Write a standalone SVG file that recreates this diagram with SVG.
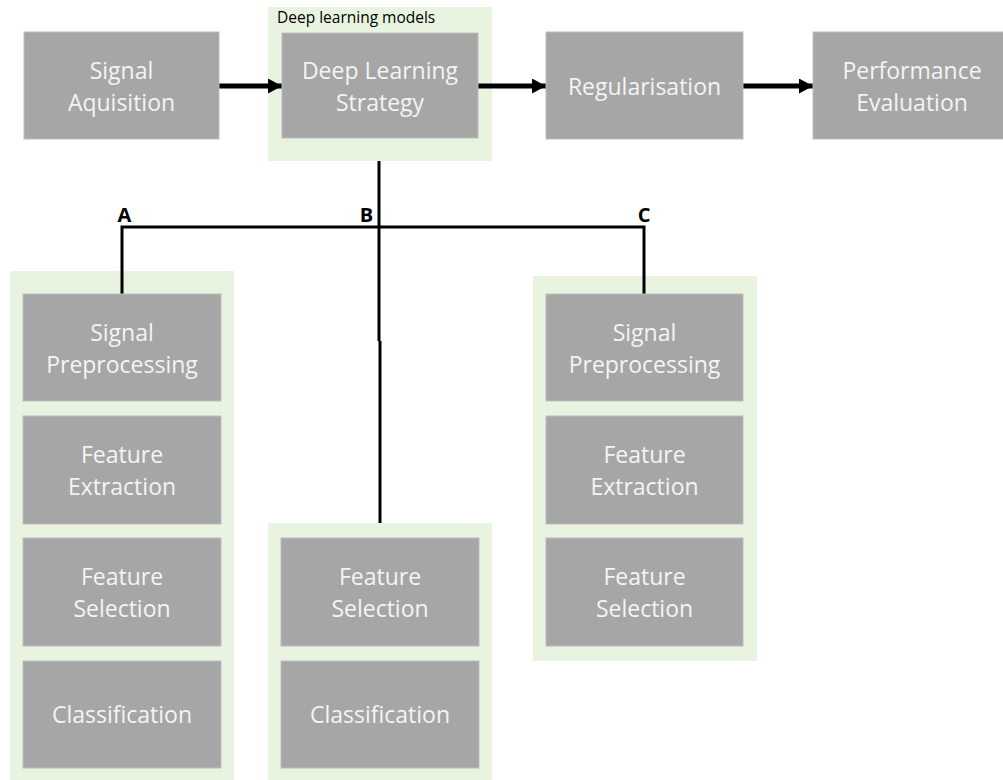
<svg xmlns="http://www.w3.org/2000/svg" width="1003" height="780" viewBox="0 0 1003 780">
<style>
.bg{fill:#ffffff}
.grp{fill:#E9F4E0}
.box{fill:#A6A6A6;stroke:#BDBDBD;stroke-width:1}
.t{font-family:"Open Sans","Liberation Sans",sans-serif;font-size:23px;fill:#F4F4F4;text-anchor:middle}
.lbl{font-family:"Open Sans","Liberation Sans",sans-serif;font-size:15.5px;fill:#000}
.ltr{font-family:"Open Sans","Liberation Sans",sans-serif;font-size:20px;font-weight:bold;fill:#000;text-anchor:middle}
.ln{stroke:#000;stroke-width:3;fill:none}
.ar{stroke:#000;stroke-width:5;fill:none}
</style>
<defs>
<marker id="ah" markerUnits="userSpaceOnUse" markerWidth="16" markerHeight="16" refX="14" refY="7.5" orient="auto">
<path d="M0,0 L14,7.5 L0,15 Z" fill="#000"/>
</marker>
</defs>
<rect class="bg" x="0" y="0" width="1003" height="780"/>
<g id="containers">
<rect id="grp-deep" class="grp" x="268" y="7" width="224" height="154"/>
<text class="lbl" x="277" y="23">Deep learning models</text>
<rect id="grp-a" class="grp" x="10" y="271" width="224" height="509"/>
<rect id="grp-b" class="grp" x="268" y="523" width="224" height="257"/>
<rect id="grp-c" class="grp" x="533" y="276" width="224" height="385"/>
</g>
<g id="connectors">
<line class="ar" x1="219" y1="86" x2="282" y2="86" marker-end="url(#ah)"/>
<line class="ar" x1="478" y1="86" x2="546" y2="86" marker-end="url(#ah)"/>
<line class="ar" x1="743" y1="86" x2="813" y2="86" marker-end="url(#ah)"/>
<polyline class="ln" points="122,294 122,227 644,227 644,294"/>
<line class="ln" x1="379" y1="161" x2="379" y2="341"/>
<line class="ln" x1="380" y1="341" x2="380" y2="523"/>
<text class="ltr" x="124.5" y="222">A</text>
<text class="ltr" x="366.5" y="222">B</text>
<text class="ltr" x="644" y="222">C</text>
</g>
<g id="n-signal-aq"><rect class="box" x="24" y="32" width="195" height="107"/><text class="t" x="121.5" y="79">Signal</text><text class="t" x="121.5" y="111">Aquisition</text></g>
<g id="n-deep"><rect class="box" x="282" y="33" width="196" height="105"/><text class="t" x="380" y="79">Deep Learning</text><text class="t" x="380" y="111">Strategy</text></g>
<g id="n-reg"><rect class="box" x="546" y="32" width="197" height="107"/><text class="t" x="644.5" y="95">Regularisation</text></g>
<g id="n-perf"><rect class="box" x="813" y="32" width="198" height="107"/><text class="t" x="912" y="79">Performance</text><text class="t" x="912" y="111">Evaluation</text></g>

<g id="a-prep"><rect class="box" x="23" y="294" width="198" height="107"/><text class="t" x="122" y="341">Signal</text><text class="t" x="122" y="373">Preprocessing</text></g>
<g id="a-ext"><rect class="box" x="23" y="416" width="198" height="108"/><text class="t" x="122" y="463">Feature</text><text class="t" x="122" y="495">Extraction</text></g>
<g id="a-sel"><rect class="box" x="23" y="538" width="198" height="108"/><text class="t" x="122" y="585">Feature</text><text class="t" x="122" y="617">Selection</text></g>
<g id="a-cls"><rect class="box" x="23" y="661" width="198" height="107"/><text class="t" x="122" y="723">Classification</text></g>

<g id="b-sel"><rect class="box" x="281" y="538" width="198" height="108"/><text class="t" x="380" y="585">Feature</text><text class="t" x="380" y="617">Selection</text></g>
<g id="b-cls"><rect class="box" x="281" y="661" width="198" height="107"/><text class="t" x="380" y="723">Classification</text></g>

<g id="c-prep"><rect class="box" x="546" y="294" width="197" height="107"/><text class="t" x="644.5" y="341">Signal</text><text class="t" x="644.5" y="373">Preprocessing</text></g>
<g id="c-ext"><rect class="box" x="546" y="416" width="197" height="108"/><text class="t" x="644.5" y="463">Feature</text><text class="t" x="644.5" y="495">Extraction</text></g>
<g id="c-sel"><rect class="box" x="546" y="538" width="197" height="108"/><text class="t" x="644.5" y="585">Feature</text><text class="t" x="644.5" y="617">Selection</text></g>
</svg>
